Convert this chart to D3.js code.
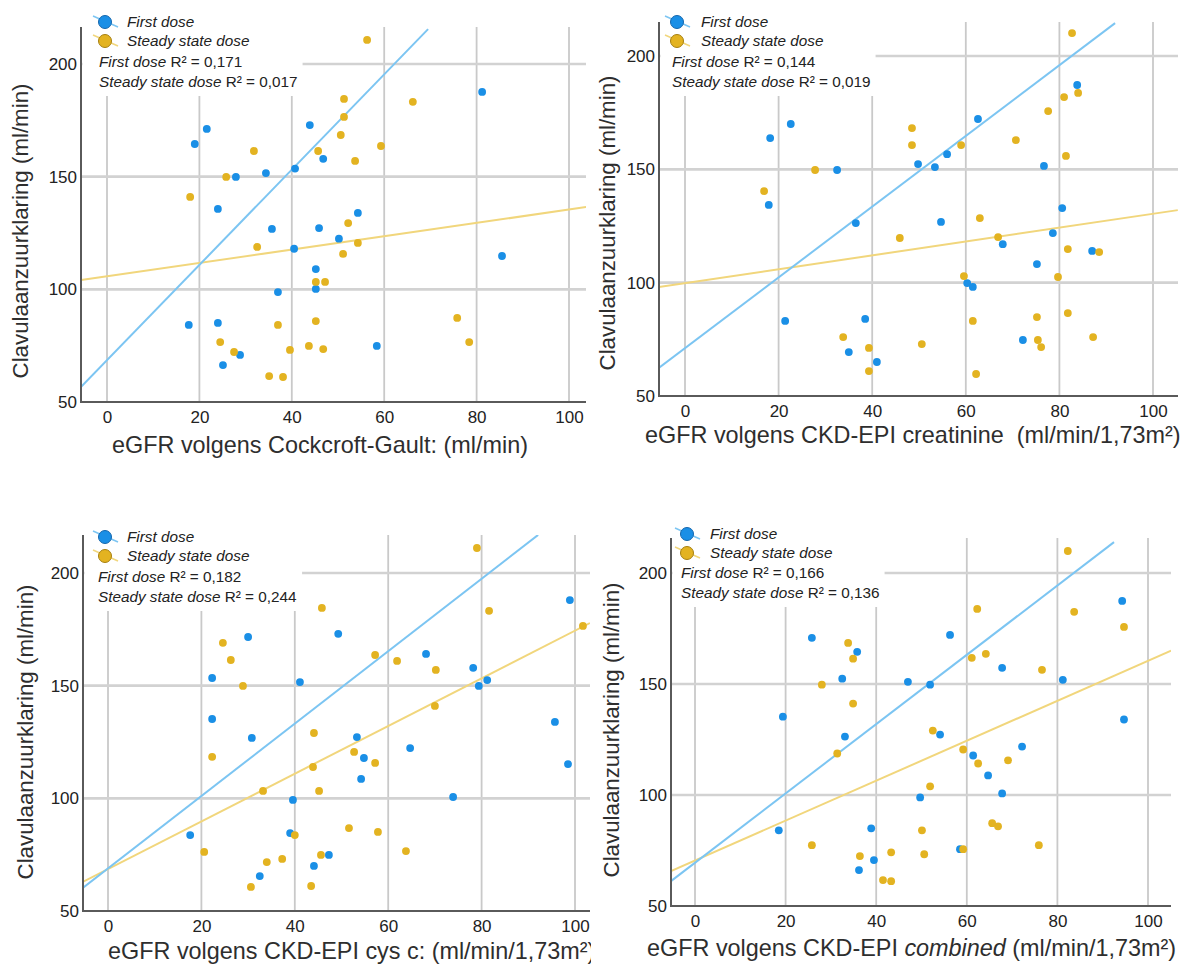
<!DOCTYPE html>
<html><head><meta charset="utf-8">
<script src="https://cdn.jsdelivr.net/npm/d3@7"></script>
<style>
body{margin:0;background:#fff;}
svg{display:block;font-family:"Liberation Sans",Arial,sans-serif;}
</style>
</head><body>
<svg id="chart" width="1187" height="965"></svg>
<script>
// ---------------- DATA ----------------
const xTicks = [0, 20, 40, 60, 80, 100];
const yTicks = [50, 100, 150, 200];
const seriesNames = ["First dose", "Steady state dose"];
const r2First  = ["0,171", "0,144", "0,182", "0,166"];
const r2Steady = ["0,017", "0,019", "0,244", "0,136"];
const yLabel = "Clavulaanzuurklaring (ml/min)";

// Cockcroft-Gault
const cgFirst = [[21.6,171.2],[19.0,164.5],[27.9,149.9],[34.4,151.6],[40.7,153.6],[24.0,135.7],[35.7,126.8],[43.9,172.9],[46.8,157.9],[81.2,187.6],[54.3,133.9],[45.9,127.2],[50.2,122.5],[40.5,118.0],[37.0,98.8],[17.7,84.2],[24.0,85.1],[28.8,70.9],[25.1,66.4],[85.5,114.8],[45.2,109.0],[45.2,100.2],[58.4,74.9]];
const cgSteady = [[31.8,161.4],[25.8,149.9],[18.0,141.0],[56.3,210.7],[51.3,184.5],[51.3,176.5],[66.2,183.2],[50.6,168.5],[45.7,161.4],[59.3,163.6],[53.7,157.0],[52.2,129.4],[32.5,118.8],[37.0,84.2],[24.5,76.6],[27.5,72.2],[39.6,73.1],[35.1,61.5],[38.1,61.1],[54.3,120.6],[51.1,115.7],[45.2,103.3],[47.2,103.3],[45.2,85.9],[75.8,87.3],[78.4,76.6],[43.7,74.9],[46.8,73.5]];
const cgFirstFit  = [[-5.6,56.7],[69.5,215.5]];
const cgSteadyFit = [[-5.6,104.1],[103.7,136.5]];

// CKD-EPI creatinine
const crFirst = [[22.6,170.0],[18.2,163.8],[32.5,149.7],[17.9,134.3],[36.5,126.3],[83.8,187.2],[62.6,172.2],[56.0,156.7],[49.8,152.3],[53.4,151.0],[76.7,151.5],[80.6,132.9],[54.7,126.8],[78.6,121.9],[21.4,83.1],[38.5,84.0],[35.0,69.4],[41.0,65.0],[67.9,117.0],[75.2,108.2],[87.0,114.0],[60.3,99.8],[61.5,98.1],[72.2,74.7]];
const crSteady = [[27.8,149.7],[16.9,140.4],[82.7,210.1],[81.0,181.9],[84.0,183.7],[77.6,175.7],[48.5,168.2],[48.5,160.7],[59.0,160.7],[70.7,162.9],[81.4,155.9],[63.0,128.5],[66.9,120.1],[45.9,119.7],[33.8,76.0],[39.3,71.2],[39.3,61.0],[81.8,114.8],[88.5,113.5],[59.6,102.9],[79.7,102.5],[81.8,86.6],[75.2,84.8],[61.5,83.1],[87.2,76.0],[75.4,74.7],[76.1,71.6],[50.6,72.9],[62.2,59.7]];
const crFirstFit  = [[-5.6,62.4],[91.9,214.5]];
const crSteadyFit = [[-5.6,98.1],[105.3,132.0]];

// CKD-EPI cystatin C
const cyFirst = [[30.0,171.6],[22.3,153.4],[22.3,135.2],[30.8,126.8],[17.6,83.7],[39.6,99.3],[39.0,84.6],[32.5,65.5],[41.1,151.6],[49.3,173.0],[68.1,164.1],[78.2,157.9],[79.4,149.9],[81.2,152.5],[98.9,188.0],[95.7,133.9],[98.5,115.2],[53.3,127.2],[54.8,117.9],[64.7,122.3],[54.2,108.6],[73.9,100.6],[47.3,74.9],[44.1,70.0]];
const cySteady = [[24.6,169.0],[26.3,161.4],[28.9,149.9],[22.3,118.4],[33.2,103.3],[20.6,76.2],[34.0,71.7],[37.3,73.1],[30.6,60.7],[40.0,83.7],[79.0,211.1],[45.8,184.5],[81.6,183.2],[101.7,176.5],[57.2,163.6],[61.9,161.0],[70.2,157.0],[70.0,141.0],[44.1,129.0],[52.7,120.6],[57.2,115.7],[43.9,113.9],[45.2,103.3],[51.6,86.8],[57.8,85.1],[63.8,76.6],[45.6,74.9],[43.5,61.1]];
const cyFirstFit  = [[-5.4,60.2],[92.1,216.9]];
const cySteadyFit = [[-5.4,62.9],[103.2,177.8]];

// CKD-EPI combined
const cbFirst = [[25.8,170.8],[35.8,164.5],[32.5,152.4],[19.4,135.3],[33.1,126.3],[18.5,84.1],[38.9,85.0],[39.5,70.7],[36.2,66.2],[56.3,172.1],[94.3,187.4],[67.8,157.3],[47.0,151.0],[51.9,149.7],[81.2,151.9],[94.7,134.0],[54.1,127.2],[72.2,121.8],[61.4,117.8],[64.7,108.8],[67.8,100.7],[49.7,98.9],[58.5,75.6]];
const cbSteady = [[33.8,168.5],[34.9,161.4],[28.0,149.7],[34.9,141.2],[31.4,118.7],[25.8,77.4],[36.4,72.5],[43.3,74.2],[41.5,61.7],[43.3,61.2],[82.3,209.9],[62.3,183.8],[83.7,182.5],[94.7,175.7],[61.1,161.8],[64.2,163.6],[76.6,156.4],[52.5,129.0],[59.2,120.5],[62.5,114.2],[69.1,115.6],[51.9,103.9],[50.1,84.1],[50.6,73.3],[65.6,87.3],[66.9,85.9],[59.2,75.6],[75.9,77.4]];
const cbFirstFit  = [[-5.3,61.2],[92.5,213.9]];
const cbSteadyFit = [[-5.3,65.7],[105.1,165.0]];

// x-axis titles (parts: [text, italic])
const xTitleCG = [["eGFR volgens Cockcroft-Gault: (ml/min)", false]];
const xTitleCR = [["eGFR volgens CKD-EPI creatinine\u00a0 (ml/min/1,73m\u00b2)", false]];
const xTitleCY = [["eGFR volgens CKD-EPI cys c: (ml/min/1,73m\u00b2)", false]];
const xTitleCB = [["eGFR volgens CKD-EPI ", false], ["combined", true], [" (ml/min/1,73m\u00b2)", false]];

// ---------------- STYLE ----------------
const BLUE = "#1a8fe6", BLUE_EDGE = "#1466ad", BLUE_LINE = "#7cc5f2";
const GOLD = "#e3b321", GOLD_EDGE = "#a67f10", GOLD_LINE = "#f1d67c";
const GRID_V = "#c9c9c9", GRID_H = "#d2d2d2", AXIS = "#5a5a5a", TXT = "#222";

const svg = d3.select("#chart");
svg.append("rect").attr("width", 1187).attr("height", 965).attr("fill", "#fff");
const defs = svg.append("defs");
defs.append("clipPath").attr("id", "leftHalf").append("rect")
  .attr("x", 0).attr("y", 0).attr("width", 591).attr("height", 965);

// layout of each panel (pixel geometry)
const panels = [
  {id:"cg", xr:[107,569], yr:[402,64], L:81,  R:586,  T:27,
   first:cgFirst, steady:cgSteady, ff:cgFirstFit, sf:cgSteadyFit, r2:0,
   leg:{icon:105, text:127, r2x:99, rows:[22,41,62,82]},
   ylab:{x:20, y:231}, xlab:{x:112, y:453, parts:xTitleCG}},
  {id:"cr", xr:[685,1153], yr:[396,56], L:659, R:1178, T:22,
   first:crFirst, steady:crSteady, ff:crFirstFit, sf:crSteadyFit, r2:1,
   leg:{icon:677, text:701, r2x:672, rows:[22,41,62,82]},
   ylab:{x:607, y:223}, xlab:{x:645, y:443, parts:xTitleCR}},
  {id:"cy", xr:[108,575], yr:[911,573], L:83,  R:590,  T:535,
   first:cyFirst, steady:cySteady, ff:cyFirstFit, sf:cySteadyFit, r2:2,
   leg:{icon:105, text:127, r2x:98, rows:[537,556,577,597]},
   ylab:{x:25, y:732}, xlab:{x:108, y:959, parts:xTitleCY, clip:true}},
  {id:"cb", xr:[695,1148], yr:[906,573], L:671, R:1171, T:538,
   first:cbFirst, steady:cbSteady, ff:cbFirstFit, sf:cbSteadyFit, r2:3,
   leg:{icon:687, text:710, r2x:681, rows:[534,553,573,593]},
   ylab:{x:611, y:730}, xlab:{x:647, y:956, parts:xTitleCB}}
];

function drawPanel(p) {
  const g = svg.append("g").attr("class", "panel-" + p.id);
  const x = d3.scaleLinear().domain([0, 100]).range(p.xr);
  const y = d3.scaleLinear().domain([50, 200]).range(p.yr);
  const B = y(50);

  defs.append("clipPath").attr("id", "clip-" + p.id).append("rect")
    .attr("x", p.L).attr("y", p.T).attr("width", p.R - p.L).attr("height", B - p.T);

  // grid
  g.append("g").selectAll("line").data(xTicks).join("line")
    .attr("x1", d => x(d)).attr("x2", d => x(d)).attr("y1", p.T).attr("y2", B)
    .attr("stroke", GRID_V).attr("stroke-width", 1.8);
  g.append("g").selectAll("line").data(yTicks.filter(d => d > 50)).join("line")
    .attr("x1", p.L).attr("x2", p.R).attr("y1", d => y(d)).attr("y2", d => y(d))
    .attr("stroke", GRID_H).attr("stroke-width", 2.6);

  // legend
  const bg = g.append("rect").attr("fill", "#fff");
  const lg = g.append("g");
  const cols = [[BLUE, BLUE_EDGE, BLUE_LINE], [GOLD, GOLD_EDGE, GOLD_LINE]];
  seriesNames.forEach((name, i) => {
    const cy = p.leg.rows[i], cx = p.leg.icon;
    lg.append("line").attr("x1", cx - 12).attr("y1", cy - 6).attr("x2", cx + 13).attr("y2", cy + 5)
      .attr("stroke", cols[i][2]).attr("stroke-width", 1.5);
    lg.append("circle").attr("cx", cx).attr("cy", cy).attr("r", 6.5)
      .attr("fill", cols[i][0]).attr("stroke", cols[i][1]).attr("stroke-width", 1);
    lg.append("text").attr("x", p.leg.text).attr("y", cy + 5)
      .attr("font-size", 15.3).attr("font-style", "italic").attr("fill", TXT).text(name);
  });
  const r2vals = [r2First[p.r2], r2Steady[p.r2]];
  seriesNames.forEach((name, i) => {
    const t = lg.append("text").attr("x", p.leg.r2x).attr("y", p.leg.rows[2 + i] + 5)
      .attr("font-size", 15.3).attr("fill", TXT);
    t.append("tspan").attr("font-style", "italic").text(name);
    t.append("tspan").text(" R\u00b2 = " + r2vals[i]);
  });
  const bb = lg.node().getBBox();
  bg.attr("x", p.L + 1.5).attr("y", p.T - 2)
    .attr("width", bb.x + bb.width + 5 - (p.L + 1.5))
    .attr("height", bb.y + bb.height + 6 - (p.T - 2));

  // fit lines
  const line = d3.line().x(d => x(d[0])).y(d => y(d[1]));
  const fl = g.append("g").attr("clip-path", "url(#clip-" + p.id + ")");
  fl.append("path").datum(p.sf).attr("d", line).attr("fill", "none")
    .attr("stroke", GOLD_LINE).attr("stroke-width", 2);
  fl.append("path").datum(p.ff).attr("d", line).attr("fill", "none")
    .attr("stroke", BLUE_LINE).attr("stroke-width", 2);

  // points
  g.append("g").selectAll("circle").data(p.first).join("circle")
    .attr("cx", d => x(d[0])).attr("cy", d => y(d[1])).attr("r", 3.9).attr("fill", BLUE);
  g.append("g").selectAll("circle").data(p.steady).join("circle")
    .attr("cx", d => x(d[0])).attr("cy", d => y(d[1])).attr("r", 3.9).attr("fill", GOLD);

  // axes (ticks via d3 axes)
  const ax = g.append("g").attr("transform", `translate(0,${B})`)
    .call(d3.axisBottom(x).tickValues(xTicks).tickSize(0).tickPadding(9));
  ax.select(".domain").remove();
  ax.selectAll("text").attr("font-size", 17).attr("fill", TXT)
    .attr("font-family", '"Liberation Sans",Arial,sans-serif');
  const ay = g.append("g").attr("transform", `translate(${p.L - 3},0)`)
    .call(d3.axisLeft(y).tickValues(yTicks).tickSize(0).tickPadding(1));
  ay.select(".domain").remove();
  ay.selectAll("text").attr("font-size", 17).attr("fill", TXT)
    .attr("font-family", '"Liberation Sans",Arial,sans-serif');

  g.append("line").attr("x1", p.L).attr("x2", p.L).attr("y1", p.T).attr("y2", B + 1)
    .attr("stroke", AXIS).attr("stroke-width", 2);
  g.append("line").attr("x1", p.L - 1).attr("x2", p.R).attr("y1", B).attr("y2", B)
    .attr("stroke", AXIS).attr("stroke-width", 2);

  // titles
  g.append("text").attr("transform", `translate(${p.ylab.x},${p.ylab.y}) rotate(-90)`)
    .attr("text-anchor", "middle").attr("dominant-baseline", "central")
    .attr("font-size", 22.3).attr("fill", "#2e2e2e").text(yLabel);
  const xt = g.append("text").attr("x", p.xlab.x).attr("y", p.xlab.y)
    .attr("font-size", 23.4).attr("fill", "#2e2e2e");
  if (p.xlab.clip) xt.attr("clip-path", "url(#leftHalf)");
  p.xlab.parts.forEach(([s, it]) => {
    const ts = xt.append("tspan").text(s);
    if (it) ts.attr("font-style", "italic");
  });
}

panels.forEach(drawPanel);
</script>
</body></html>
